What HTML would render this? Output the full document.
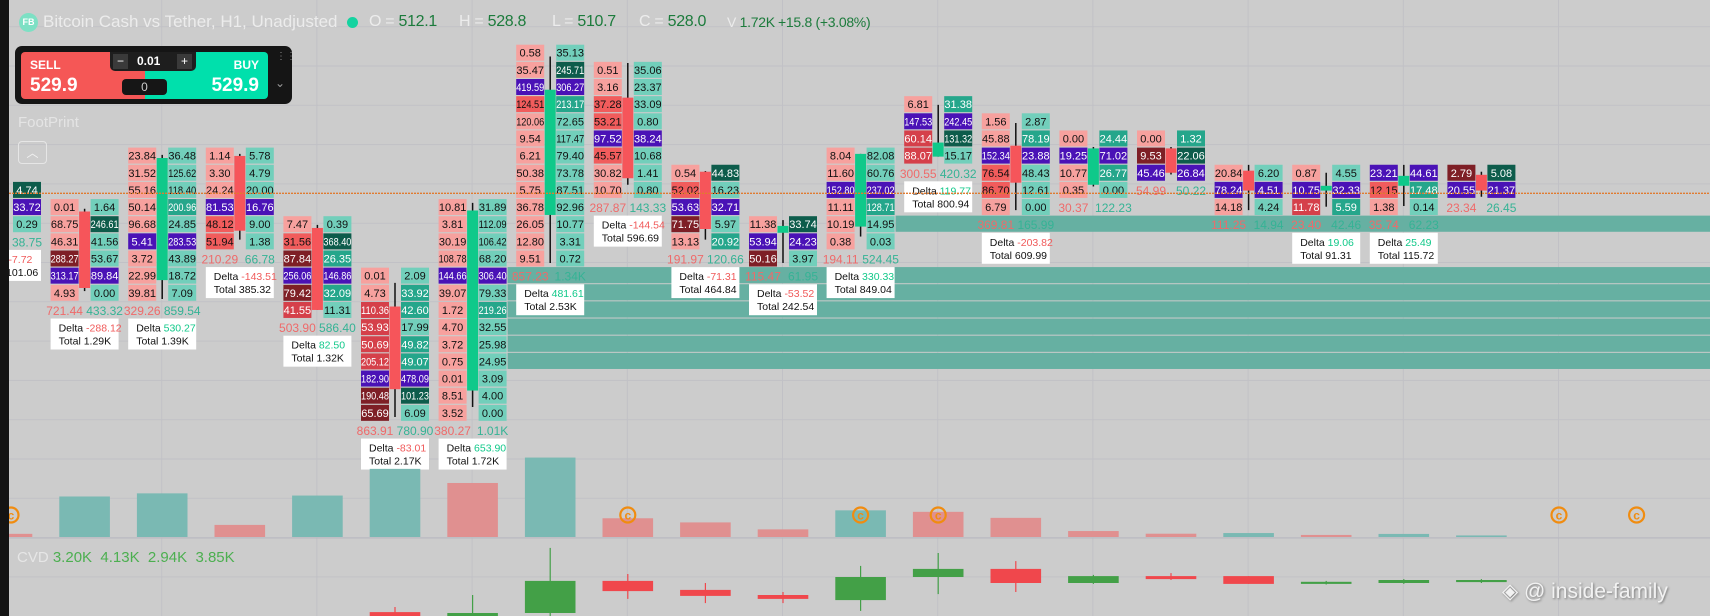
<!DOCTYPE html>
<html><head><meta charset="utf-8">
<style>
html,body{margin:0;padding:0;}
body{width:1710px;height:616px;overflow:hidden;background:#cccccc;position:relative;font-family:"Liberation Sans",sans-serif;}
#chart{position:absolute;left:0;top:0;}
.hdr{position:absolute;top:11px;height:22px;line-height:22px;font-size:14px;letter-spacing:-0.3px;white-space:nowrap;}
.lbl{color:#ececec;}
.val{color:#1c7b3c;}
</style></head>
<body>
<svg id="chart" width="1710" height="616" xmlns="http://www.w3.org/2000/svg">
  <g id="grid"></g><g id="bands"></g><g id="marks"></g><g id="lower"></g>
</svg>

<div style="position:absolute;left:0;top:0;width:9px;height:616px;background:#131313;"></div>

<div style="position:absolute;left:19px;top:13px;width:19px;height:19px;border-radius:50%;background:#7de0c4;color:#fff;font-size:9px;font-weight:bold;line-height:19px;text-align:center;">FB</div>
<div class="hdr lbl" style="left:43px;font-size:17px;letter-spacing:0;">Bitcoin Cash vs Tether, H1, Unadjusted</div>
<div style="position:absolute;left:347px;top:17px;width:11px;height:11px;border-radius:50%;background:#14d3a0;"></div>
<div class="hdr" style="left:369px;font-size:16px;"><span class="lbl">O = </span><span class="val">512.1</span></div>
<div class="hdr" style="left:459px;font-size:16px;"><span class="lbl">H = </span><span class="val">528.8</span></div>
<div class="hdr" style="left:552px;font-size:16px;"><span class="lbl">L = </span><span class="val">510.7</span></div>
<div class="hdr" style="left:639px;font-size:16px;"><span class="lbl">C = </span><span class="val">528.0</span></div>
<div class="hdr" style="left:727px;"><span class="lbl">V </span><span class="val">1.72K</span></div>
<div class="hdr val" style="left:778px;">+15.8 (+3.08%)</div>

<div style="position:absolute;left:15px;top:46px;width:277px;height:58px;background:#151515;border-radius:7px;">
  <div style="position:absolute;left:6px;top:6px;width:125px;height:47px;background:#f55756;border-radius:4px 0 0 4px;color:#fff;">
    <div style="position:absolute;left:9px;top:6px;font-size:12px;font-weight:bold;">SELL</div>
    <div style="position:absolute;left:9px;top:23px;font-size:19px;font-weight:bold;">529.9</div>
  </div>
  <div style="position:absolute;left:130px;top:6px;width:123px;height:47px;background:#00e0ac;border-radius:0 4px 4px 0;color:#fff;">
    <div style="position:absolute;right:9px;top:6px;font-size:12px;font-weight:bold;">BUY</div>
    <div style="position:absolute;right:9px;top:23px;font-size:19px;font-weight:bold;">529.9</div>
  </div>
  <div style="position:absolute;left:95px;top:6px;width:86px;height:19px;background:#1e1e1e;border-radius:0 0 5px 5px;color:#fff;font-size:12px;">
    <span style="position:absolute;left:3px;top:2px;width:15px;height:15px;background:#3a3a3a;text-align:center;line-height:15px;">−</span>
    <span style="position:absolute;left:27px;top:2px;font-weight:bold;">0.01</span>
    <span style="position:absolute;left:67px;top:2px;width:15px;height:15px;background:#3a3a3a;text-align:center;line-height:15px;">+</span>
  </div>
  <div style="position:absolute;left:107px;top:33px;width:45px;height:16px;background:#161616;border-radius:4px;color:#ccc;font-size:12px;text-align:center;line-height:16px;">0</div>
  <div style="position:absolute;left:261px;top:7px;color:#888;font-size:10px;line-height:8px;">⋮⋮</div>
  <div style="position:absolute;left:260px;top:30px;color:#999;font-size:12px;">⌄</div>
</div>

<div style="position:absolute;left:18px;top:114px;font-size:15px;color:#e4e4e4;">FootPrint</div>
<div style="position:absolute;left:18px;top:141px;width:27px;height:21px;border:1px solid #e6e6e6;border-radius:4px;color:#f2f2f2;font-size:12px;text-align:center;line-height:22px;">︿</div>

<div style="position:absolute;left:17px;top:549px;font-size:15px;white-space:nowrap;"><span style="color:#e6e6e6">CVD</span> <span style="color:#4caf50">3.20K&nbsp; 4.13K&nbsp; 2.94K&nbsp; 3.85K</span></div>

<div style="position:absolute;left:1502px;top:579px;font-size:21px;color:#f2f2f2;text-shadow:1px 1px 2px #777;white-space:nowrap;">◈ @ inside-family</div>

<script>
// ---------- data ----------
const topPrices = [530.0,529.5,531.0,531.0,529.0,527.5,529.5,534.0,533.5,530.5,529.0,531.0,532.5,532.0,531.5,531.5,530.5,530.5,530.5,530.5];
const sellVals = [
 [null,null,null],
 [0.01,68.75,46.31,288.27,313.17,4.93],
 [23.84,31.52,55.16,50.14,96.68,5.41,3.72,22.99,39.81],
 [1.14,3.30,24.24,81.53,48.12,51.94],
 [7.47,31.56,87.84,256.06,79.42,41.55],
 [0.01,4.73,110.36,53.93,50.69,205.12,182.90,190.48,65.69],
 [10.81,3.81,30.19,108.78,144.66,39.07,1.72,4.70,3.72,0.75,0.01,8.51,3.52],
 [0.58,35.47,419.59,124.51,120.06,9.54,6.21,50.38,5.75,36.78,26.05,12.80,9.51],
 [0.51,3.16,37.28,53.21,97.52,45.57,30.82,10.70],
 [0.54,52.02,53.63,71.75,13.13],
 [11.38,53.94,50.16],
 [8.04,11.60,152.80,11.11,10.19,0.38],
 [6.81,147.53,60.14,88.07],
 [1.56,45.88,152.34,76.54,86.70,6.79],
 [0.00,19.25,10.77,0.35],
 [0.00,9.53,45.46],
 [20.84,78.24,14.18],
 [0.87,10.75,11.78],
 [23.21,12.15,1.38],
 [2.79,20.55]
];
const sellClass = ["sss","sssmps","ssssspsss","sssprr","srmpmR","ssRRRRpmm","sssspssssssss","ssprsssssssss","ssrrprss","srpms","spm","sspsss","spRR","ssprrs","spss","smp","sps","spR","prs","mp"];
const buyVals = [
 [4.74,33.72,0.29],
 [1.64,246.61,41.56,53.67,89.84,0.00],
 [36.48,125.62,118.40,200.96,24.85,283.53,43.89,18.72,7.09],
 [5.78,4.79,20.00,16.76,9.00,1.38],
 [0.39,368.40,26.35,146.86,32.09,11.31],
 [2.09,33.92,42.60,17.99,49.82,49.07,478.09,101.23,6.09],
 [31.89,112.09,106.42,68.20,306.40,79.33,219.26,32.55,25.98,24.95,3.09,4.00,0.00],
 [35.13,245.71,306.27,213.17,72.65,117.47,79.40,73.78,87.51,92.96,10.77,3.31,0.72],
 [35.06,23.37,33.09,0.80,38.24,10.68,1.41,0.80],
 [44.83,16.23,32.71,5.97,20.92],
 [33.74,24.23,3.97],
 [82.08,60.76,237.02,128.71,14.95,0.03],
 [31.38,242.45,131.32,15.17],
 [2.87,78.19,23.88,48.43,12.61,0.00],
 [24.44,71.02,26.77,0.00],
 [1.32,22.06,26.84],
 [6.20,4.51,4.24],
 [4.55,32.33,5.59],
 [44.61,17.48,0.14],
 [5.08,21.37]
];
const buyClass = ["dpt","tdttpt","tttgtpttt","tttptt","tdgpgt","tggtggpdt","ttttptgtttttt","tdpgttttttttt","ttttpttt","dtptg","dpt","ttpgtt","gpdt","tgpttt","gpgt","gdp","tpt","tpg","pgt","dp"];
const sellTotals = [null,"721.44","329.26","210.29","503.90","863.91","380.27","857.23","287.87","191.97","115.47","194.11","300.55","369.81","30.37","54.99","111.25","23.40","35.74","23.34"];
const buyTotals = ["38.75","433.32","859.54","66.78","586.40","780.90","1.01K","1.34K","143.33","120.66","61.95","524.45","420.32","165.99","122.23","50.22","14.94","42.46","62.23","26.45"];
const deltas = ["-7.72","-288.12","530.27","-143.51","82.50","-83.01","653.90","481.61","-144.54","-71.31","-53.52","330.33","119.77","-203.82",null,null,null,"19.06","25.49",null];
const totals = ["101.06","1.29K","1.39K","385.32","1.32K","2.17K","1.72K","2.53K","596.69","464.84","242.54","849.04","800.94","609.99",null,null,null,"91.31","115.72",null];
const opens  = [null,529.37,527.37,530.99,528.89,526.60,524.15,529.27,532.69,530.53,528.75,528.93,530.97,531.29,530.15,531.21,530.56,529.98,530.12,530.44];
const closes = [null,527.14,530.93,528.81,526.50,524.19,529.40,532.92,530.34,528.86,528.95,531.05,531.38,530.21,531.21,530.50,529.98,530.12,530.41,529.98];
const highs  = [null,529.45,531.02,531.05,528.98,527.29,529.62,533.89,533.70,530.55,529.12,531.05,532.48,531.95,531.25,531.25,530.73,530.50,530.73,530.53];
const lows   = [null,527.05,526.82,528.55,526.50,523.38,523.67,527.87,530.15,528.55,527.87,528.64,530.97,529.41,530.10,530.45,529.41,529.51,529.53,529.80];
const volumes = [101.06,1290,1390,385.32,1320,2170,1720,2530,596.69,464.84,242.54,849.04,800.94,609.99,190,105.21,126.19,65.86,97.97,49.79];
const volDir = ["d","u","u","d","u","u","d","u","d","d","d","u","d","d","d","d","u","d","u","u"];
const cvdO = [1.0,1.0,1.0,1.0,1.0,2.93,2.60,2.90,3.97,3.67,3.50,3.33,4.10,4.37,3.90,4.13,4.13,3.87,3.90,3.93];
const cvdC = [1.0,1.0,1.0,1.0,1.0,2.67,2.90,3.97,3.63,3.47,3.37,4.10,4.37,3.90,4.13,4.03,3.87,3.94,4.00,4.00];
const cvdH = [1.0,1.0,1.0,1.0,1.0,3.10,3.50,5.07,4.20,3.90,3.60,4.47,4.90,4.63,4.17,4.23,4.13,3.97,4.03,4.03];
const cvdL = [1.0,1.0,1.0,1.0,1.0,2.50,2.50,2.60,3.37,3.23,3.23,2.97,3.53,3.60,3.87,4.00,3.87,3.85,3.87,3.90];
const lastPrice = 529.9;
const copyrightCandles = [0,8,11,12,20,21];
const bandRows = [[527.5,525.0,6],[529.0,529.0,11]];

// ---------- scales ----------
const P0 = 534, STEP = 0.5, ROWH = 17.15, ROW0 = 52.7;
function yP(p){ return ROW0 + (P0 - p) / STEP * ROWH; }
function xS(i){ return -27 + 77.6 * i; }
function xC(i){ return xS(i) + 34; }
function yVol(v){ return 537 - v * 0.0314; }
function yCvd(v){ return 700 - 30 * v; }

const NS = "http://www.w3.org/2000/svg";
function mk(tag, attrs, parent){ const e = document.createElementNS(NS, tag); for (const k in attrs) e.setAttribute(k, attrs[k]); parent.appendChild(e); return e; }
const FILL = {s:"#f7a19e", r:"#f15c5c", R:"#d5404a", m:"#7e1f26", p:"#4a12b6", t:"#72cfbb", g:"#25a68b", d:"#0d5c4b"};
const TXT  = {s:"#111", r:"#111", R:"#fff", m:"#fff", p:"#fff", t:"#111", g:"#fff", d:"#fff"};

// ---------- grid ----------
const grid = document.getElementById("grid");
for (let y = 459 - 39.3*11; y < 616; y += 39.3) {
  const l = mk("line", {x1:0, x2:1710, y1:y, y2:y, stroke:"#c1c1c6", "stroke-width":1}, grid);
  
  
}
for (let x = 6.5; x < 1710; x += 155.2) {
  const l = mk("line", {x1:x, x2:x, y1:0, y2:616, stroke:"#c1c1c6", "stroke-width":1}, grid);
  
  
}
const sep = mk("line", {x1:0, x2:1710, y1:538, y2:538, stroke:"#b8b8c0", "stroke-width":1}, grid);



// ---------- imbalance bands ----------
const bands = document.getElementById("bands");
bandRows.forEach(b => {
  const x0 = xS(b[2]) + 69;
  for (let p = b[0]; p >= b[1] - 0.001; p -= STEP) {
    const r = mk("rect", {x:x0, y:yP(p) - ROWH/2, width:1710 - x0, height:ROWH - 1, fill:"#66b0a2"}, bands);
    
    
  }
});

// ---------- footprint ----------
const marks = document.getElementById("marks");
function cell(x, y, v, cls, name){
  if (v === null) return;
  const g = mk("g", {}, marks);
  
  
  mk("rect", {x:x, y:y - 8, width:28, height:16, fill:FILL[cls]}, g);
  const s = v.toFixed(2);
  const a = {x:x + 14, y:y + 4, "text-anchor":"middle", "font-size":11, fill:TXT[cls]};
  if (s.length >= 6) { a.textLength = 28; a.lengthAdjust = "spacingAndGlyphs"; }
  const t = mk("text", a, g);
  t.textContent = s;
}
for (let i = 0; i < topPrices.length; i++) {
  const sx = xS(i), bx = sx + 40;
  const n = buyVals[i].length;
  if (opens[i] !== null) {
    const up = closes[i] >= opens[i];
    const w = mk("line", {x1:xC(i), x2:xC(i), y1:yP(highs[i]), y2:yP(lows[i]), stroke:"#111", "stroke-width":1.5}, marks);
    
    
    const y1 = yP(Math.max(opens[i], closes[i])), y2 = yP(Math.min(opens[i], closes[i]));
    const b = mk("rect", {x:sx + 28.5, y:y1, width:11, height:Math.max(2, y2 - y1), fill: up ? "#0fc98a" : "#f6555a"}, marks);
    
    
  }
  for (let k = 0; k < n; k++) {
    const y = yP(topPrices[i] - k * STEP);
    cell(sx, y, sellVals[i][k], sellClass[i][k], 'sell-volume-cell');
    cell(bx, y, buyVals[i][k], buyClass[i][k], 'buy-volume-cell');
  }
  const ty = yP(topPrices[i] - n * STEP) + 5;
  if (sellTotals[i]) {
    const t = mk("text", {x:sx + 14, y:ty, "text-anchor":"middle", "font-size":12, fill:"#ef6a6a"}, marks);
    
    
    t.textContent = sellTotals[i];
  }
  if (buyTotals[i]) {
    const t = mk("text", {x:bx + 14, y:ty, "text-anchor":"middle", "font-size":12, fill:"#35b395"}, marks);
    
    
    t.textContent = buyTotals[i];
  }
  if (deltas[i]) {
    const by = yP(topPrices[i] - (n + 1) * STEP) - ROWH/2;
    const g = mk("g", {}, marks);
    
    
    mk("rect", {x:sx, y:by, width:68, height:31, fill:"#ffffff"}, g);
    const t1 = mk("text", {x:sx + 8, y:by + 13, "font-size":10.5, fill:"#111"}, g);
    t1.textContent = "Delta ";
    const ts = mk("tspan", {fill: deltas[i][0] === "-" ? "#f05a5a" : "#12c98a"}, t1);
    ts.textContent = deltas[i];
    const t2 = mk("text", {x:sx + 8, y:by + 26, "font-size":10.5, fill:"#111"}, g);
    t2.textContent = "Total  " + totals[i];
  }
}
const lp = mk("line", {x1:0, x2:1710, y1:yP(lastPrice), y2:yP(lastPrice), stroke:"#e07b30", "stroke-width":1.3, "stroke-dasharray":"2 1"}, marks);



// ---------- volume & CVD ----------
const lower = document.getElementById("lower");
for (let i = 0; i < volumes.length; i++) {
  const y = yVol(volumes[i]);
  const r = mk("rect", {x:xC(i) - 25.3, y:y, width:50.6, height:537 - y, fill: volDir[i] === "u" ? "#7ab9b3" : "#e09090"}, lower);
  
  
  const up = cvdC[i] >= cvdO[i], col = up ? "#43a047" : "#f0474c";
  const w = mk("line", {x1:xC(i), x2:xC(i), y1:yCvd(cvdH[i]), y2:Math.min(616, yCvd(cvdL[i])), stroke:col, "stroke-width":1.2}, lower);
  
  
  const y1 = yCvd(Math.max(cvdO[i], cvdC[i])), y2 = Math.min(616, yCvd(Math.min(cvdO[i], cvdC[i])));
  if (y1 < 616) {
    const b = mk("rect", {x:xC(i) - 25.3, y:y1, width:50.6, height:Math.max(2, y2 - y1), fill:col}, lower);
    
    
  }
}
copyrightCandles.forEach(i => {
  const g = mk("g", {}, lower);
  
  
  mk("circle", {cx:xC(i) + (i === 0 ? 4 : 0), cy:515, r:7.5, fill:"none", stroke:"#f08c10", "stroke-width":2.2}, g);
  const t = mk("text", {x:xC(i) + (i === 0 ? 4 : 0), y:519.5, "text-anchor":"middle", "font-size":12, "font-weight":"bold", fill:"#f08c10"}, g);
  t.textContent = "c";
});
</script>
</body></html>
